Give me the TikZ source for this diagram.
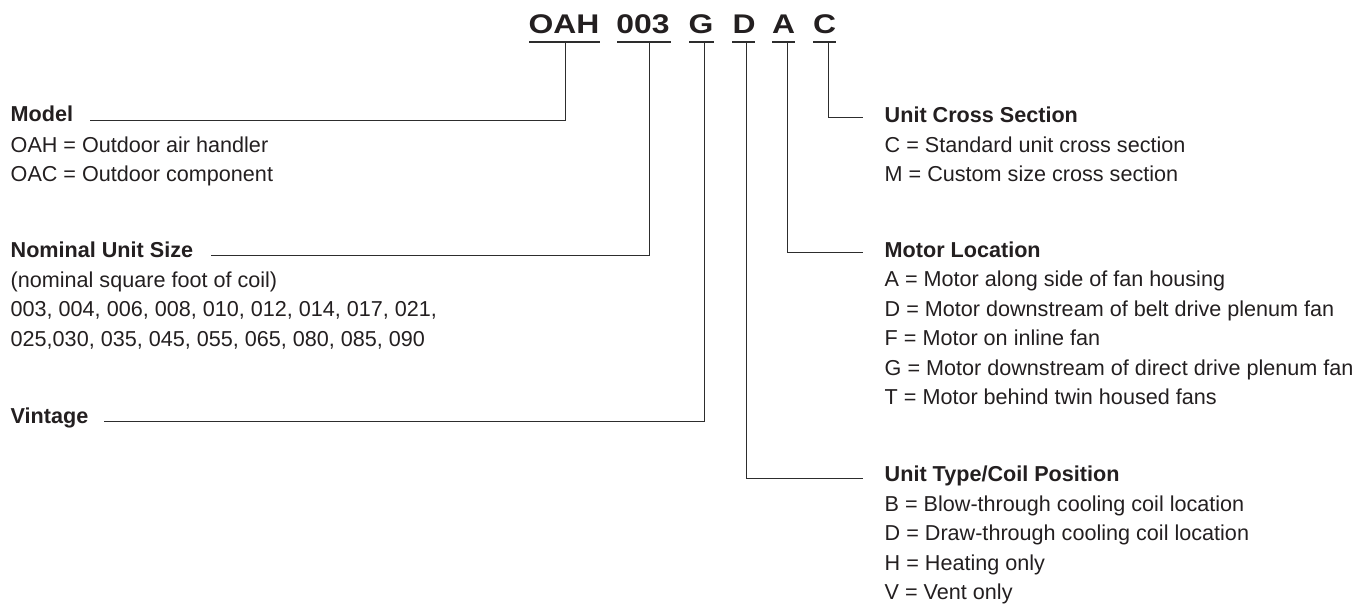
\documentclass[tikz,border=0pt]{standalone}
\usepackage{fontspec}
\setmainfont{Liberation Sans}
\usepackage{graphicx}
\definecolor{ink}{RGB}{35,31,32}
\definecolor{rulec}{RGB}{45,45,45}
\begin{document}
\begin{tikzpicture}[x=1pt,y=-1pt,
  code/.style={inner sep=0pt, anchor=base, font=\fontsize{27}{30}\selectfont\bfseries, text=ink},
  head/.style={inner sep=0pt, anchor=base west, font=\fontsize{21.6}{25}\selectfont\bfseries, text=ink},
  item/.style={inner sep=0pt, anchor=base west, font=\fontsize{21.6}{25}\selectfont, text=ink},
  ul/.style={draw=rulec, line width=2.2pt},
  lead/.style={draw=rulec, line width=1pt}]
\useasboundingbox (0,0) rectangle (1362,605);

% title code
\node[code] (cOAH) at (564,33.3) {\scalebox{1.18}[1]{OAH}};
\node[code] (c003) at (643,33.3) {\scalebox{1.18}[1]{003}};
\node[code] (cG) at (701,33.3) {\scalebox{1.18}[1]{G}};
\node[code] (cD) at (744,33.3) {\scalebox{1.18}[1]{D}};
\node[code] (cA) at (783.5,33.3) {\scalebox{1.18}[1]{A}};
\node[code] (cC) at (824.5,33.3) {\scalebox{1.18}[1]{C}};

% underlines
\draw[ul] (529,41.7) -- (600,41.7);
\draw[ul] (617,41.7) -- (671,41.7);
\draw[ul] (689,41.7) -- (714,41.7);
\draw[ul] (732,41.7) -- (755,41.7);
\draw[ul] (772,41.7) -- (795,41.7);
\draw[ul] (813,41.7) -- (836,41.7);

\coordinate (pOAH) at (565,42.6);
\coordinate (p003) at (649,42.6);
\coordinate (pG) at (704,42.6);
\coordinate (pD) at (746,42.6);
\coordinate (pA) at (787,42.6);
\coordinate (pC) at (828,42.6);

% left labels
\node[head] (model) at (10.5,121.7) {Model};
\node[item] (model1) at (10.5,152.3) {OAH = Outdoor air handler};
\node[item] (model2) at (10.5,181.2) {OAC = Outdoor component};

\node[head] (size) at (10.5,257) {Nominal Unit Size};
\node[item] (size1) at (10.5,287) {(nominal square foot of coil)};
\node[item] (size2) at (10.5,316.5) {003, 004, 006, 008, 010, 012, 014, 017, 021,};
\node[item] (size3) at (10.5,346) {025,030, 035, 045, 055, 065, 080, 085, 090};

\node[head] (vint) at (10.5,423) {Vintage};

% right labels
\node[head] (ucs) at (884.5,122) {Unit Cross Section};
\node[item] (ucs1) at (884.5,152) {C = Standard unit cross section};
\node[item] (ucs2) at (884.5,181) {M = Custom size cross section};

\node[head] (motor) at (884.5,257.3) {Motor Location};
\node[item] (motor1) at (884.5,286.7) {A = Motor along side of fan housing};
\node[item] (motor2) at (884.5,316) {D = Motor downstream of belt drive plenum fan};
\node[item] (motor3) at (884.5,345.5) {F = Motor on inline fan};
\node[item] (motor4) at (884.5,375) {G = Motor downstream of direct drive plenum fan};
\node[item] (motor5) at (884.5,404.5) {T = Motor behind twin housed fans};

\node[head] (utype) at (884.5,481.7) {Unit Type/Coil Position};
\node[item] (utype1) at (884.5,511.3) {B = Blow-through cooling coil location};
\node[item] (utype2) at (884.5,540.8) {D = Draw-through cooling coil location};
\node[item] (utype3) at (884.5,570.2) {H = Heating only};
\node[item] (utype4) at (884.5,599.5) {V = Vent only};

% leader lines
\draw[lead] (pOAH) |- ([xshift=17pt,yshift=1pt]model.base east);
\draw[lead] (p003) |- ([xshift=18pt,yshift=2pt]size.base east);
\draw[lead] (pG) |- ([xshift=15pt,yshift=2pt]vint.base east);
\draw[lead] (pC) |- ([xshift=-22pt,yshift=5pt]ucs.base west);
\draw[lead] (pA) |- ([xshift=-22pt,yshift=4.6pt]motor.base west);
\draw[lead] (pD) |- ([xshift=-22pt,yshift=3.4pt]utype.base west);
\end{tikzpicture}
\end{document}
